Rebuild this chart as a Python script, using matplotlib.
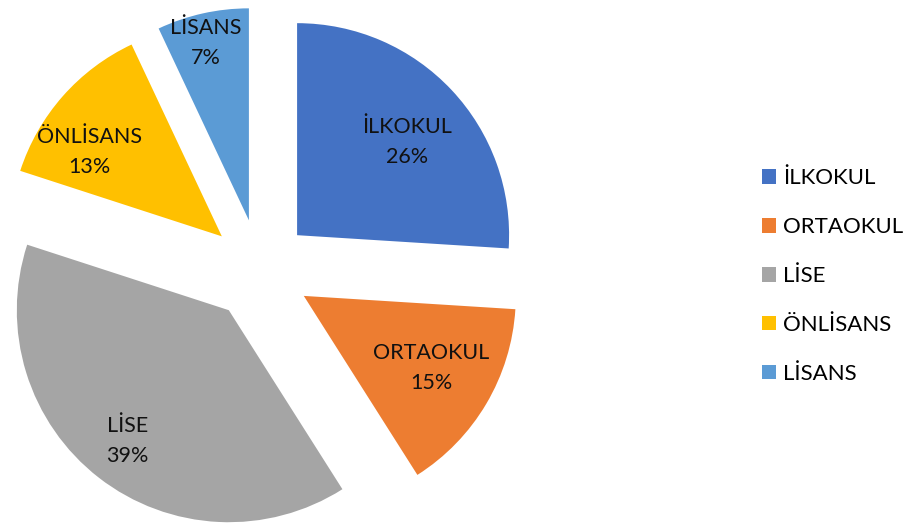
import numpy as np
import matplotlib.pyplot as plt

plt.rcParams["font.family"] = ["Lato", "DejaVu Sans"]

categories = ["İLKOKUL", "ORTAOKUL", "LİSE", "ÖNLİSANS", "LİSANS"]
shares = [26, 15, 39, 13, 7]
colors = ["#4472C4", "#ED7D31", "#A5A5A5", "#FFC000", "#5B9BD5"]

# label placement inside each wedge (fraction of radius from the wedge apex, angle nudge)
label_r = [0.68, 0.69, 0.78, 0.74, 0.86]
label_dang = [-3, 1, 0, 9, 1]

fig = plt.figure(figsize=(9.07, 5.25), dpi=100)
ax = fig.add_axes([0, 0, 1, 1])

px = 212.0  # pixels per unit radius
cx, cy = 260.0, 270.0

explode = [0.24] * len(shares)
wedges, _ = ax.pie(shares, colors=colors, startangle=90, counterclock=False,
                   explode=explode, radius=1.0, frame=True,
                   wedgeprops=dict(linewidth=0))
ax.set_xlim(-cx / px, (907 - cx) / px)
ax.set_ylim(-(525 - cy) / px, cy / px)
ax.set_aspect("auto")
ax.axis("off")

for w, name, val, r, da in zip(wedges, categories, shares, label_r, label_dang):
    mid = np.deg2rad((w.theta1 + w.theta2) / 2)
    ox, oy = w.center
    ang = mid + np.deg2rad(da)
    x = ox + r * np.cos(ang)
    y = oy + r * np.sin(ang)
    ax.text(x, y, f"{name}\n{val}%", ha="center", va="center", fontsize=15.5,
            color="#111111", linespacing=1.6)

ax.legend(wedges, categories, loc="center left", bbox_to_anchor=(0.840, 0.474),
          bbox_transform=fig.transFigure, frameon=False, fontsize=16,
          handlelength=0.63, handleheight=0.63, handletextpad=0.32,
          labelspacing=1.3, borderpad=0, borderaxespad=0)

fig.savefig("out.png", dpi=100)
